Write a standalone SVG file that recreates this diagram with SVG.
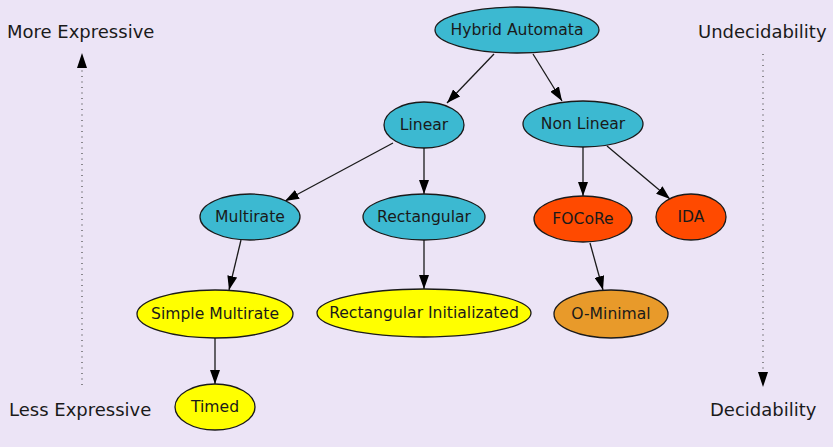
<svg xmlns="http://www.w3.org/2000/svg" width="833" height="447" viewBox="0 0 833 447">
  <defs>
    <marker id="arrowBig" viewBox="0 0 14 10" refX="14" refY="5" markerWidth="14" markerHeight="10" markerUnits="userSpaceOnUse" orient="auto">
      <path d="M0,0 L14,5 L0,10 z" fill="#000"/>
    </marker>
    <style>
      .node ellipse { stroke: #1a1a1a; stroke-width: 1.3; }
      .blue ellipse { fill: #3cb9d1; }
      .yellow ellipse { fill: #ffff00; }
      .red ellipse { fill: #ff4a00; }
      .orange ellipse { fill: #e89a2a; }
      .node text { font-family: "DejaVu Sans", sans-serif; font-size: 15.6px; fill: #1a1a1a; text-anchor: middle; }
      .edge { stroke: #1a1a1a; stroke-width: 1.3; fill: none; marker-end: url(#arrowBig); }
      .axis { stroke: #555; stroke-width: 1.3; stroke-dasharray: 1 4.5; fill: none; }
      .side { font-family: "DejaVu Sans", sans-serif; font-size: 18px; fill: #1a1a1a; }
    </style>
  </defs>

  <rect width="833" height="447" fill="#ece4f6"/>

  <!-- scale annotations -->
  <g id="scales">
    <text class="side" x="7" y="38">More Expressive</text>
    <text class="side" x="9" y="416">Less Expressive</text>
    <text class="side" x="698" y="38">Undecidability</text>
    <text class="side" x="710" y="416">Decidability</text>
    <line class="axis" x1="82" y1="385" x2="82" y2="68"/>
    <path d="M77,68 L82,53 L87,68 z" fill="#000"/>
    <line class="axis" x1="763" y1="54" x2="763" y2="372"/>
    <path d="M758,372 L763,387 L768,372 z" fill="#000"/>
  </g>

  <!-- connectors -->
  <g id="edges">
    <line class="edge" x1="494" y1="54" x2="447" y2="103"/>
    <line class="edge" x1="533" y1="54" x2="562" y2="101"/>
    <line class="edge" x1="393" y1="143" x2="285" y2="201"/>
    <line class="edge" x1="424" y1="148" x2="424" y2="194"/>
    <line class="edge" x1="583" y1="146" x2="583" y2="196"/>
    <line class="edge" x1="607" y1="146" x2="670" y2="199"/>
    <line class="edge" x1="241" y1="240" x2="229" y2="290"/>
    <line class="edge" x1="424" y1="240" x2="424" y2="289"/>
    <line class="edge" x1="590" y1="243" x2="603" y2="290"/>
    <line class="edge" x1="215" y1="338" x2="215" y2="384"/>
  </g>

  <g id="hybrid-automata" class="node blue">
    <ellipse cx="517" cy="30" rx="82" ry="23"/>
    <text x="517" y="35">Hybrid Automata</text>
  </g>
  <g id="linear" class="node blue">
    <ellipse cx="424" cy="125" rx="40" ry="23"/>
    <text x="424" y="130">Linear</text>
  </g>
  <g id="non-linear" class="node blue">
    <ellipse cx="583" cy="124" rx="60" ry="23"/>
    <text x="583" y="129">Non Linear</text>
  </g>
  <g id="multirate" class="node blue">
    <ellipse cx="250" cy="217" rx="50" ry="23"/>
    <text x="250" y="222">Multirate</text>
  </g>
  <g id="rectangular" class="node blue">
    <ellipse cx="424" cy="217" rx="61" ry="23"/>
    <text x="424" y="222">Rectangular</text>
  </g>
  <g id="focore" class="node red">
    <ellipse cx="583" cy="219" rx="49" ry="23"/>
    <text x="583" y="224">FOCoRe</text>
  </g>
  <g id="ida" class="node red">
    <ellipse cx="691" cy="217" rx="35" ry="23"/>
    <text x="691" y="222">IDA</text>
  </g>
  <g id="simple-multirate" class="node yellow">
    <ellipse cx="215" cy="314" rx="78" ry="24"/>
    <text x="215" y="319">Simple Multirate</text>
  </g>
  <g id="rectangular-initializated" class="node yellow">
    <ellipse cx="424" cy="313" rx="107" ry="24"/>
    <text x="424" y="318">Rectangular Initializated</text>
  </g>
  <g id="o-minimal" class="node orange">
    <ellipse cx="611" cy="314" rx="57" ry="24"/>
    <text x="611" y="319">O-Minimal</text>
  </g>
  <g id="timed" class="node yellow">
    <ellipse cx="215" cy="407" rx="40" ry="23"/>
    <text x="215" y="412">Timed</text>
  </g>
</svg>
